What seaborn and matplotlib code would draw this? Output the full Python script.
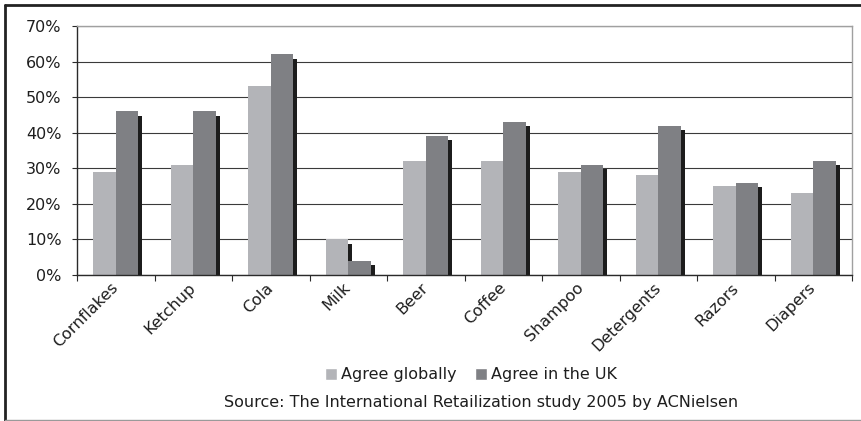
import matplotlib
matplotlib.use("Agg")
import matplotlib.pyplot as plt
import matplotlib.patheffects as pe
from matplotlib.lines import Line2D
from matplotlib.ticker import PercentFormatter, MultipleLocator, FixedLocator
import seaborn as sns
import pandas as pd

# Share of shoppers who agree, per product category (percent)
products = ["Cornflakes", "Ketchup", "Cola", "Milk", "Beer",
            "Coffee", "Shampoo", "Detergents", "Razors", "Diapers"]
agree_global = [29, 31, 53, 10, 32, 32, 29, 28, 25, 23]
agree_uk = [46, 46, 62, 4, 39, 43, 31, 42, 26, 32]
series_names = ["Agree globally", "Agree in the UK"]
source_note = "Source: The International Retailization study 2005 by ACNielsen"

df = pd.DataFrame({
    "product": products * 2,
    "series": [series_names[0]] * len(products) + [series_names[1]] * len(products),
    "share": agree_global + agree_uk,
})

sns.set_theme(style="white")
plt.rcParams["font.family"] = ["DejaVu Sans"]
text_color = "#1e1e1e"

W, H = 861, 421
fig = plt.figure(figsize=(W / 100, H / 100), dpi=100)
ax = fig.add_axes([77 / W, 1 - 275 / H, (852 - 77) / W, (275 - 26) / H])

sns.barplot(data=df, x="product", y="share", hue="series",
            palette=["#b3b4b8", "#7f8084"], saturation=1, width=0.58,
            order=products, hue_order=series_names, ax=ax)

# drop shadow on every bar
shadow = [pe.SimplePatchShadow(offset=(3, -3), shadow_rgbFace="#1c1c1c", alpha=1.0),
          pe.Normal()]
for bar in ax.patches:
    bar.set_path_effects(shadow)
    bar.set_linewidth(0)

ax.set_ylim(0, 70)
ax.set_xlim(-0.5, len(products) - 0.5)
ax.yaxis.set_major_locator(MultipleLocator(10))
ax.yaxis.set_major_formatter(PercentFormatter(xmax=100, decimals=0))
ax.set_axisbelow(True)
ax.yaxis.grid(True, color="#3a3a3a", linewidth=0.8)
ax.xaxis.grid(False)
ax.set_xlabel("")
ax.set_ylabel("")

for side in ("left", "bottom"):
    ax.spines[side].set_color("#2a2a2a")
    ax.spines[side].set_linewidth(1.0)
for side in ("top", "right"):
    ax.spines[side].set_color("#a0a0a0")
    ax.spines[side].set_linewidth(1.0)

ax.tick_params(axis="y", which="major", left=True, length=3.6, width=0.8,
               color="#2a2a2a", pad=7.5, labelsize=11.5, labelcolor=text_color)
ax.tick_params(axis="x", which="major", bottom=False, length=0, pad=7.5,
               labelsize=11.5, labelcolor=text_color)
ax.xaxis.set_minor_locator(FixedLocator([i - 0.5 for i in range(len(products) + 1)]))
ax.tick_params(axis="x", which="minor", bottom=True, length=4.3, width=0.8,
               color="#2a2a2a")
for lab in ax.get_xticklabels():
    lab.set_rotation(45)
    lab.set_ha("right")
    lab.set_va("center")
    lab.set_rotation_mode("anchor")

sns.move_legend(ax, "center", bbox_to_anchor=(471 / W, 1 - 375 / H),
                bbox_transform=fig.transFigure, ncol=2, frameon=False,
                title=None, fontsize=11.5, handlelength=0.75, handleheight=0.75,
                handletextpad=0.3, columnspacing=1.1, labelcolor=text_color)

fig.text(481 / W, 1 - 403 / H, source_note, ha="center", va="center",
         fontsize=11.5, color=text_color)

# outer frame: heavy top and left edges, light bottom edge
fig.add_artist(Line2D([5 / W, 1], [1 - 5 / H, 1 - 5 / H], transform=fig.transFigure,
                      color="#222222", linewidth=2.0))
fig.add_artist(Line2D([5 / W, 5 / W], [1 - 5 / H, 0], transform=fig.transFigure,
                      color="#222222", linewidth=2.0))
fig.add_artist(Line2D([5 / W, 1], [1 - 419.5 / H, 1 - 419.5 / H], transform=fig.transFigure,
                      color="#9a9a9a", linewidth=1.0))

fig.savefig("out.png", dpi=100, facecolor="white")
